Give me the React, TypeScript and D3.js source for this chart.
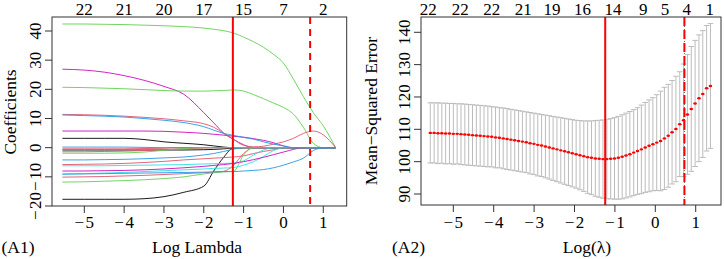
import React from "react";
import * as d3 from "d3";

const W = 724;
const H = 259;
const FONT = "'Liberation Serif', 'Times New Roman', serif";

// ---------- (A1) coefficient paths ----------
const coefKnots = [-5.55, -5, -4.5, -4, -3.5, -3, -2.5, -2, -1.75, -1.5, -1.25, -1, -0.75, -0.5, -0.25, 0, 0.25, 0.5, 0.75, 1, 1.31];

const pBlack1 = [3.2, 3.2, 3.2, 3.2, 2.8, 2.0, 1.5, 1.0, 0.6, 0.2, 0, 0, 0, 0, 0, 0, 0, 0, 0, 0, 0];
const pBlack2 = [-0.8, -0.8, -0.8, -0.8, -0.8, -0.8, -0.8, -0.7, -0.6, -0.4, -0.1, 0, 0, 0, 0, 0, 0, 0, 0, 0, 0];
const pBlack3 = [-17.7, -17.7, -17.7, -17.7, -17.5, -16.8, -15.3, -13.2, -8.0, -3.3, 0, 0, 0, 0, 0, 0, 0, 0, 0, 0, 0];
const pRed1 = [11.4, 11.3, 11.1, 10.8, 10.4, 9.9, 9.2, 8.2, 7.0, 4.9, 2.8, 0.8, 0.3, 0.5, 1.2, 2.0, 3.2, 4.9, 5.7, 4.4, 0];
const pRed2 = [-1.4, -1.4, -1.3, -1.2, -1.0, -0.7, -0.4, -0.1, 0, 0, 0, 0, 0, 0, 0, 0, 0, 0, 0, 0, 0];
const pRed3 = [-5.8, -5.7, -5.6, -5.4, -5.1, -4.7, -4.2, -3.8, -3.6, -3.4, -3.2, -2.8, -2.0, -1.3, -0.7, -0.1, 0, 0, 0, 0, 0];
const pRed4 = [-10.1, -10.0, -9.9, -9.7, -9.5, -9.2, -8.9, -8.6, -8.4, -8.1, -6.0, -2.0, 0, 0, 0, 0, 0, 0, 0, 0, 0];
const pRed5 = [-0.4, -0.4, -0.4, -0.4, -0.3, -0.2, 0, 0, 0, 0, 0, 0, 0, 0, 0, 0, 0, 0, 0, 0, 0];
const pGreen1 = [42.4, 42.4, 42.3, 42.2, 42.0, 41.8, 41.5, 41.0, 40.6, 40.1, 39.3, 37.9, 36.3, 34.4, 32.0, 29.0, 23.5, 17.5, 12.0, 7.5, 0];
const pGreen2 = [20.7, 20.6, 20.4, 20.2, 19.9, 19.6, 19.4, 19.4, 19.5, 19.6, 19.8, 19.4, 18.2, 16.8, 15.3, 13.8, 11.5, 7.0, 1.5, 0, 0];
const pGreen3 = [-11.8, -11.7, -11.5, -11.3, -11.0, -10.6, -10.0, -9.0, -8.6, -8.3, -8.1, -2.5, 0, 0, 0, 0, 0, 0, 0, 0, 0];
const pGreen4 = [-1.9, -1.9, -1.9, -1.8, -1.5, -0.9, -0.3, 0, 0, 0, 0, 0, 0, 0, 0, 0, 0, 0, 0, 0, 0];
const pBlue1 = [11.2, 11.0, 10.8, 10.5, 10.0, 9.4, 8.6, 7.2, 6.0, 4.9, 4.2, 3.5, 2.9, 2.0, 1.2, 0.6, 0, 0, 0, 0, 0];
const pBlue2 = [0.2, 0.2, 0.2, 0.2, 0.1, 0, 0, 0, 0, 0, 0, 0, 0, 0, 0, 0, 0, 0, 0, 0, 0];
const pBlue3 = [-4.2, -4.2, -4.1, -4.0, -3.8, -3.5, -3.2, -2.5, -2.0, -1.3, -0.5, 0, 0, 0, 0, 0, 0, 0, 0, 0, 0];
const pBlue4 = [-9.1, -9.0, -8.9, -8.8, -8.7, -8.6, -8.5, -8.4, -8.3, -8.2, -8.2, -8.0, -7.8, -7.5, -6.9, -6.0, -4.9, -3.6, -1.0, 0, 0];
const pCyan1 = [-6.2, -6.2, -6.2, -6.1, -6.0, -5.9, -5.8, -5.6, -5.5, -5.4, -5.3, -4.5, -2.5, -0.8, 0, 0, 0, 0, 0, 0, 0];
const pCyan2 = [-9.0, -8.9, -8.7, -8.5, -8.2, -7.9, -7.6, -7.3, -7.1, -7.0, -6.8, -6.0, -4.8, -3.0, -1.0, 0, 0, 0, 0, 0, 0];
const pMagenta1 = [26.9, 26.6, 25.9, 24.7, 23.1, 21.0, 18.3, 12.0, 8.5, 5.0, 2.8, 1.0, 0, 0, 0, 0, 0, 0, 0, 0, 0];
const pMagenta2 = [5.7, 5.7, 5.7, 5.7, 5.7, 5.6, 5.3, 4.9, 4.6, 4.3, 3.9, 3.6, 3.1, 2.5, 1.7, 0.6, 0, 0, 0, 0, 0];
const pMagenta3 = [-8.0, -8.0, -7.9, -7.8, -7.6, -7.3, -6.9, -6.4, -6.1, -5.8, -5.4, -4.8, -4.1, -3.3, -2.4, -1.5, -0.6, 0, 0, 0, 0];

const BLACK = "#000000";
const RED = "#DF536B";
const GREEN = "#61D04F";
const BLUE = "#2297E6";
const CYAN = "#28E2E5";
const MAGENTA = "#CD0BBC";

const coefSeries: [number[], string][] = [
  [pBlue2, BLUE],
  [pBlack1, BLACK], [pBlack2, BLACK], [pBlack3, BLACK],
  [pRed2, RED], [pRed3, RED], [pRed4, RED], [pRed5, RED],
  [pCyan1, CYAN], [pCyan2, CYAN],
  [pMagenta1, MAGENTA], [pMagenta2, MAGENTA], [pMagenta3, MAGENTA],
  [pGreen1, GREEN], [pGreen2, GREEN], [pGreen3, GREEN], [pBlue3, BLUE], [pRed1, RED],
  [pGreen4, GREEN], [pBlue1, BLUE], [pBlue4, BLUE],
];

const leftXTicks = [-5, -4, -3, -2, -1, 0, 1];
const leftYTicks = [-20, -10, 0, 10, 20, 30, 40];
const leftTopLabels = ["22", "21", "20", "17", "15", "7", "2"];
const leftVLines = [-1.27, 0.67];

// ---------- (A2) cross-validation curve ----------
const cvLogLambda = [
  1.365, 1.27, 1.175, 1.08, 0.985, 0.89, 0.795, 0.7, 0.605, 0.51,
  0.415, 0.32, 0.225, 0.13, 0.035, -0.06, -0.155, -0.25, -0.345, -0.44,
  -0.535, -0.63, -0.725, -0.82, -0.915, -1.01, -1.105, -1.2, -1.295, -1.39,
  -1.485, -1.58, -1.675, -1.77, -1.865, -1.96, -2.055, -2.15, -2.245, -2.34,
  -2.435, -2.53, -2.625, -2.72, -2.815, -2.91, -3.005, -3.1, -3.195, -3.29,
  -3.385, -3.48, -3.575, -3.67, -3.765, -3.86, -3.955, -4.05, -4.145, -4.24,
  -4.335, -4.43, -4.525, -4.62, -4.715, -4.81, -4.905, -5.0, -5.095, -5.19,
  -5.285, -5.38, -5.475, -5.57,
];
const cvMean = [
  123.4, 122.7, 120.9, 119.6, 118.0, 116.3, 114.6, 112.8, 111.6, 110.1,
  109.1, 108.0, 107.2, 106.4, 105.9, 105.4, 104.9, 104.4, 103.8, 103.3,
  102.8, 102.3, 101.9, 101.5, 101.2, 101.0, 100.9, 100.8, 100.8, 100.9,
  101.0, 101.2, 101.4, 101.7, 102.0, 102.3, 102.6, 102.9, 103.2, 103.5,
  103.8, 104.1, 104.4, 104.7, 105.0, 105.2, 105.5, 105.7, 106.0, 106.2,
  106.4, 106.6, 106.8, 107.0, 107.2, 107.4, 107.5, 107.7, 107.8, 107.9,
  108.0, 108.1, 108.2, 108.3, 108.4, 108.5, 108.6, 108.6, 108.7, 108.7,
  108.8, 108.8, 108.9, 108.9,
];
const cvSd = [
  19.3, 19.4, 19.6, 19.6, 19.5, 19.3, 18.5, 17.4, 16.2, 16.3,
  16.0, 15.9, 15.8, 15.4, 14.8, 14.4, 14.2, 13.9, 13.7, 13.4,
  13.3, 13.2, 13.1, 13.0, 12.8, 12.6, 12.4, 12.3, 12.1, 11.9,
  11.7, 11.4, 11.2, 10.9, 10.7, 10.5, 10.4, 10.3, 10.2, 10.1,
  10.0, 9.9, 9.8, 9.7, 9.6, 9.6, 9.5, 9.5, 9.4, 9.4,
  9.4, 9.4, 9.4, 9.4, 9.4, 9.3, 9.4, 9.3, 9.4, 9.4,
  9.4, 9.4, 9.4, 9.4, 9.4, 9.4, 9.3, 9.4, 9.3, 9.4,
  9.3, 9.4, 9.3, 9.3,
];
const rightXTicks = [-5, -4, -3, -2, -1, 0, 1];
const rightYTicks = [90, 100, 110, 120, 130, 140];
const rightTopLabels = ["22", "22", "22", "21", "19", "16", "14", "9", "5", "4", "1"];
const rightTopPos = [-5.62, -4.83, -4.05, -3.27, -2.56, -1.8, -1.05, -0.3, 0.24, 0.78, 1.35];
const rightVLines = [-1.24, 0.72];

function NumLabel({ v }: { v: number }) {
  if (v < 0) {
    return (
      <>
        <tspan>{"\u2212"}</tspan>
        <tspan dx={1.5}>{String(Math.abs(v))}</tspan>
      </>
    );
  }
  return <>{String(v)}</>;
}

export default function App() {
  // left scales
  const xL = d3.scaleLinear().domain([-5.811, 1.588]).range([52, 346.7]);
  const yL = d3.scaleLinear().domain([-20, 44.8]).range([206, 17]);
  // right scales
  const xR = d3.scaleLinear().domain([-5.8, 1.626]).range([421, 721]);
  const yR = d3.scaleLinear().domain([86.6, 144.73]).range([205, 17]);

  const coefLine = d3
    .line<number>()
    .x((_, i) => xL(coefKnots[i]))
    .y((d) => yL(d))
    .curve(d3.curveMonotoneX);

  const barW = (d3.max(cvLogLambda)! - d3.min(cvLogLambda)!) * 0.01;
  const axisColor = "#333";
  const fs = 17;

  return (
    <svg width={W} height={H} style={{ position: "absolute", left: 0, top: 0, background: "#fff" }} fontFamily={FONT}>
      <rect x={0} y={0} width={W} height={H} fill="#fff" />
      {/* ---------------- Left panel ---------------- */}
      <g>
        {coefSeries.map(([vals, col], k) => (
          <path key={k} d={coefLine(vals) || ""} fill="none" stroke={col} strokeWidth={0.9} />
        ))}
        <line x1={xL(leftVLines[0])} x2={xL(leftVLines[0])} y1={17} y2={206} stroke="#ff0000" strokeWidth={2} />
        <line x1={xL(leftVLines[1])} x2={xL(leftVLines[1])} y1={17} y2={206} stroke="#ff0000" strokeWidth={2} strokeDasharray="7,5" />
        <rect x={52} y={17} width={294.7} height={189} fill="none" stroke={axisColor} strokeWidth={1} />
        {leftXTicks.map((t) => (
          <g key={t}>
            <line x1={xL(t)} x2={xL(t)} y1={206} y2={213} stroke={axisColor} />
            <text x={xL(t)} y={228} textAnchor="middle" fontSize={fs}>
              <NumLabel v={t} />
            </text>
          </g>
        ))}
        {leftXTicks.map((t, i) => (
          <text key={"tl" + t} x={xL(t)} y={14.5} textAnchor="middle" fontSize={fs}>
            {leftTopLabels[i]}
          </text>
        ))}
        {leftYTicks.map((t) => (
          <g key={t}>
            <line x1={45} x2={52} y1={yL(t)} y2={yL(t)} stroke={axisColor} />
            <text transform={`translate(40.7,${yL(t)}) rotate(-90)`} textAnchor="middle" fontSize={fs}>
              <NumLabel v={t} />
            </text>
          </g>
        ))}
        <text transform={`translate(15.5,112) rotate(-90)`} textAnchor="middle" fontSize={17.5}>
          Coefficients
        </text>
        <text x={197} y={252.5} textAnchor="middle" fontSize={17.5}>
          Log Lambda
        </text>
        <text x={1.5} y={252.5} fontSize={17.5}>
          (A1)
        </text>
      </g>

      {/* ---------------- Right panel ---------------- */}
      <g>
        {cvLogLambda.map((lx, i) => {
          const up = cvMean[i] + cvSd[i];
          const lo = cvMean[i] - cvSd[i];
          return (
            <g key={i} stroke="#bcbcbc" strokeWidth={1}>
              <line x1={xR(lx)} x2={xR(lx)} y1={yR(up)} y2={yR(lo)} />
              <line x1={xR(lx - barW)} x2={xR(lx + barW)} y1={yR(up)} y2={yR(up)} />
              <line x1={xR(lx - barW)} x2={xR(lx + barW)} y1={yR(lo)} y2={yR(lo)} />
            </g>
          );
        })}
        {rightVLines.map((v, i) => (
          <line key={"dot" + i} x1={xR(v)} x2={xR(v)} y1={17} y2={205} stroke="#333" strokeWidth={0.8} strokeDasharray="1,2" />
        ))}
        {cvLogLambda.map((lx, i) => (
          <ellipse key={"p" + i} cx={xR(lx)} cy={yR(cvMean[i])} rx={1.8} ry={1.2} fill="#ff0000" />
        ))}
        <line x1={xR(rightVLines[0])} x2={xR(rightVLines[0])} y1={17} y2={205} stroke="#ff0000" strokeWidth={2} />
        <line x1={xR(rightVLines[1])} x2={xR(rightVLines[1])} y1={17} y2={205} stroke="#ff0000" strokeWidth={2} strokeDasharray="9,4" />
        <rect x={421} y={17} width={300} height={188} fill="none" stroke={axisColor} strokeWidth={1} />
        {rightXTicks.map((t) => (
          <g key={t}>
            <line x1={xR(t)} x2={xR(t)} y1={205} y2={212} stroke={axisColor} />
            <text x={xR(t)} y={228} textAnchor="middle" fontSize={fs}>
              <NumLabel v={t} />
            </text>
          </g>
        ))}
        {rightTopLabels.map((lab, i) => (
          <text key={"rt" + i} x={xR(rightTopPos[i])} y={14.5} textAnchor="middle" fontSize={fs}>
            {lab}
          </text>
        ))}
        {rightYTicks.map((t) => (
          <g key={t}>
            <line x1={414} x2={421} y1={yR(t)} y2={yR(t)} stroke={axisColor} />
            <text transform={`translate(410,${yR(t)}) rotate(-90)`} textAnchor="middle" fontSize={fs}>
              {t}
            </text>
          </g>
        ))}
        <text transform={`translate(376.5,111) rotate(-90)`} textAnchor="middle" fontSize={17.5}>
          Mean{"\u2212"}Squared Error
        </text>
        <text x={587} y={252.5} textAnchor="middle" fontSize={17.5}>
          Log(λ)
        </text>
        <text x={392} y={252.5} fontSize={17.5}>
          (A2)
        </text>
      </g>
    </svg>
  );
}
